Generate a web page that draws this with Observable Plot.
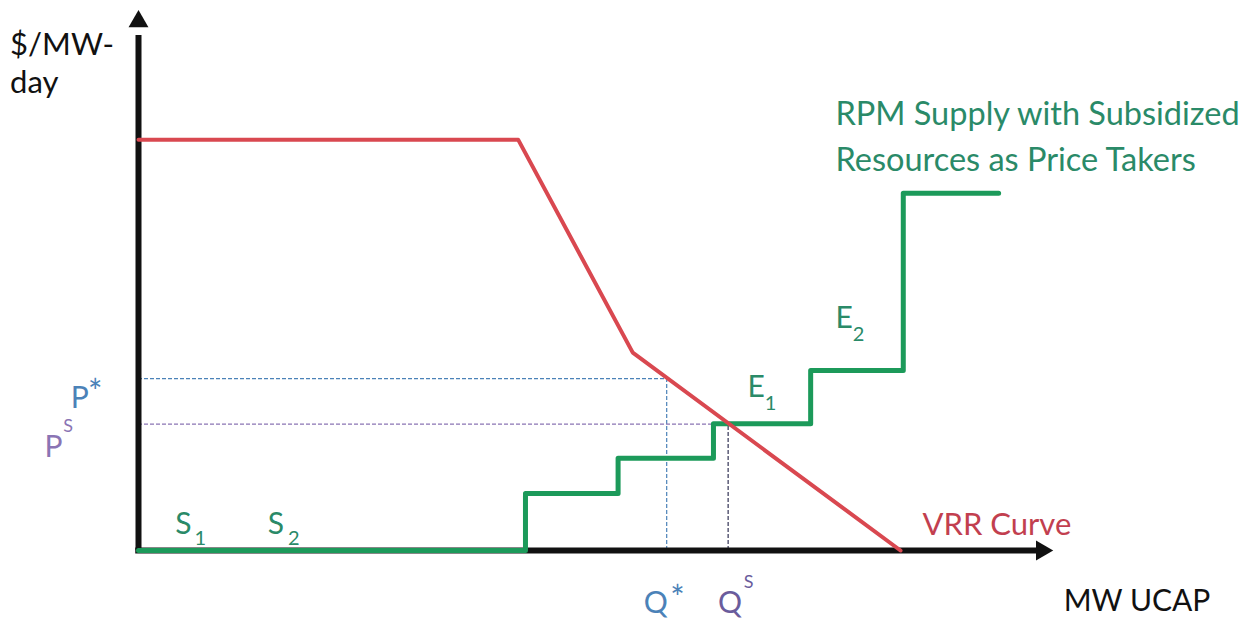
<!DOCTYPE html>
<html>
<head>
<meta charset="utf-8">
<script src="https://cdn.jsdelivr.net/npm/d3@7"></script>
<script src="https://cdn.jsdelivr.net/npm/@observablehq/plot@0.6"></script>
<style>
  html, body { margin: 0; padding: 0; background: #fff; }
  #chart svg { display: block; }
</style>
</head>
<body>
<div id="chart"></div>
<script>
// VRR demand curve (arbitrary MW UCAP units, $/MW-day units)
const vrrX = [0, 41.4, 53.9, 83.1];
const vrrY = [75.8, 75.8, 36.5, 0];
// RPM supply step curve (step-after)
const supplyX = [0, 42.2, 52.3, 62.7, 73.3, 83.4, 93.8];
const supplyY = [0, 10.5, 17.0, 23.4, 33.2, 65.9, 65.9];
// equilibria
const qStar = 57.6, pStar = 31.7;
const qS = 64.3, pS = 23.3;

const vrr = vrrX.map((x, i) => ({x, y: vrrY[i]}));
const supply = supplyX.map((x, i) => ({x, y: supplyY[i]}));

const FONT = "Lato, 'Open Sans', sans-serif";
const green = "#1c9a5a", greenText = "#2a8a68", red = "#d94850", redText = "#c23f4f";
const blue = "#4b82b8", purple = "#8a74b4", purpleDark = "#6a5c9c";

function label(text, x, y, opts = {}) {
  return Plot.text([text], {x: () => x, y: () => y, text: d => d, textAnchor: "start",
    fontFamily: FONT, fontSize: 30, fill: "#111", ...opts});
}

const chart = Plot.plot({
  width: 1258,
  height: 619,
  marginLeft: 138,
  marginRight: 203,
  marginTop: 8,
  marginBottom: 69,
  x: {domain: [0, 100], axis: null},
  y: {domain: [0, 100], axis: null},
  style: {background: "#fff"},
  marks: [
    // reference dashed lines
    Plot.ruleY([pStar], {x1: 0, x2: qStar, stroke: blue, strokeWidth: 1.2, strokeDasharray: "4,2"}),
    Plot.ruleX([qStar], {y1: 0, y2: pStar, stroke: blue, strokeWidth: 1.2, strokeDasharray: "4,2"}),
    Plot.ruleY([pS], {x1: 0, x2: qS, stroke: purple, strokeWidth: 1.2, strokeDasharray: "4,2"}),
    Plot.ruleX([qS], {y1: 0, y2: pS, stroke: "#333355", strokeWidth: 1.2, strokeDasharray: "4,2"}),
    // axes
    Plot.ruleY([0], {x1: -0.3, x2: 98, stroke: "#111", strokeWidth: 6}),
    Plot.ruleX([0], {y1: 0, y2: 95, stroke: "#111", strokeWidth: 6}),
    Plot.dot([0], {x: () => 98.5, y: () => 0, symbol: "triangle2", r: 9.5, rotate: 90, fill: "#111", stroke: null}),
    Plot.dot([0], {x: () => 0, y: () => 97.6, symbol: "triangle2", r: 9.5, rotate: 0, fill: "#111", stroke: null}),
    // curves
    Plot.line(supply, {x: "x", y: "y", curve: "step-after", stroke: green, strokeWidth: 5}),
    Plot.line(vrr, {x: "x", y: "y", stroke: red, strokeWidth: 4}),
    // labels
    label("$/MW-", -14.0, 93.2, {fontSize: 31}),
    label("day", -14.0, 86.3, {fontSize: 31}),
    label("MW UCAP", 100.9, -9.4),
    label("RPM Supply with Subsidized", 76.0, 80.4, {fill: greenText, fontSize: 32.5}),
    label("Resources as Price Takers", 76.0, 71.9, {fill: greenText, fontSize: 32.5}),
    label("VRR Curve", 85.5, 4.6, {fill: redText, fontSize: 31}),
    label("P", -7.4, 28.0, {fill: blue}),
    label("*", -5.5, 29.0, {fill: blue, fontSize: 34}),
    label("P", -10.25, 19.0, {fill: purple}),
    label("S", -8.2, 23.0, {fill: purple, fontSize: 18}),
    label("Q", 55.1, -9.8, {fill: blue}),
    label("*", 58.0, -8.9, {fill: blue, fontSize: 34}),
    label("Q", 63.2, -9.8, {fill: purpleDark}),
    label("S", 66.0, -5.9, {fill: purpleDark, fontSize: 18}),
    label("S", 4.0, 4.8, {fill: greenText}),
    label("1", 6.1, 2.2, {fill: greenText, fontSize: 20}),
    label("S", 14.1, 4.8, {fill: greenText}),
    label("2", 16.3, 2.2, {fill: greenText, fontSize: 20}),
    label("E", 66.4, 30.1, {fill: greenText}),
    label("1", 68.3, 27.1, {fill: greenText, fontSize: 20}),
    label("E", 76.0, 42.8, {fill: greenText}),
    label("2", 77.9, 39.9, {fill: greenText, fontSize: 20})
  ]
});
document.getElementById("chart").appendChild(chart);
</script>
</body>
</html>
